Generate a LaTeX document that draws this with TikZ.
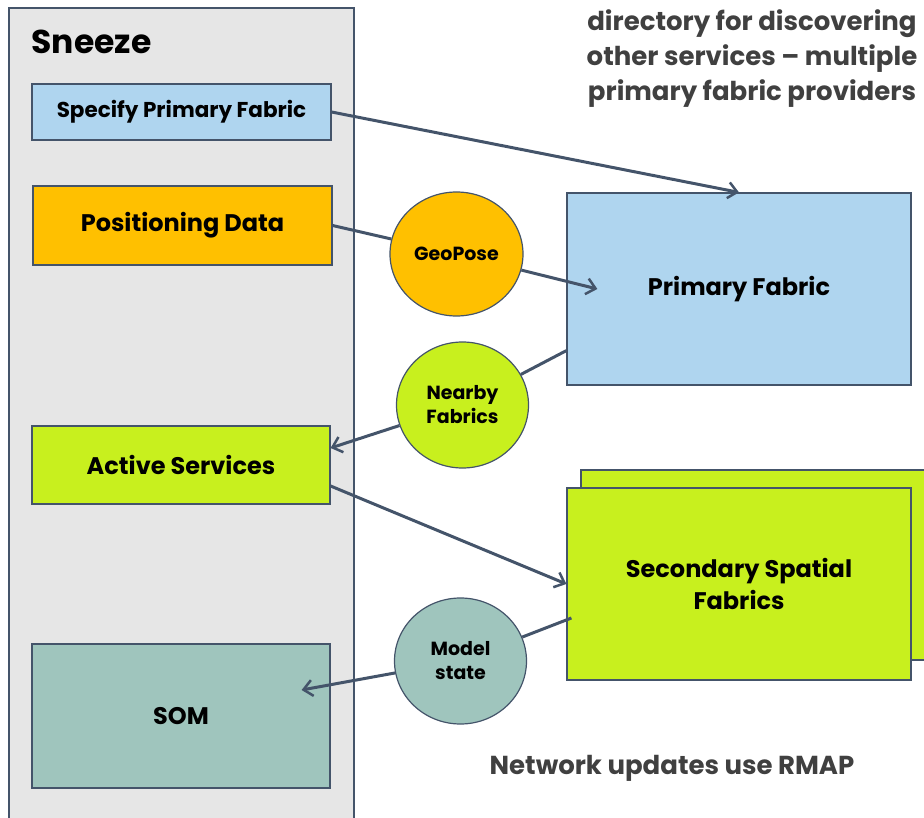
\documentclass[tikz,border=0pt]{standalone}
\usepackage{fontspec}
\setmainfont{Poppins}
\usetikzlibrary{shapes.geometric,arrows.meta,calc}
\definecolor{edge}{HTML}{44546A}
\definecolor{panel}{HTML}{E6E6E6}
\definecolor{skyblue}{HTML}{AFD5EF}
\definecolor{amber}{HTML}{FFC000}
\definecolor{lime}{HTML}{C8F01E}
\definecolor{sage}{HTML}{9FC5BD}
\definecolor{note}{HTML}{404040}
\tikzset{
  box/.style={draw=edge, line width=1.2pt, inner sep=0pt, align=center, font=\bfseries},
  bubble/.style={ellipse, draw=edge, line width=1.2pt, inner sep=0pt, align=center,
    minimum width=132pt, minimum height=126pt, font=\fontsize{19}{24}\selectfont\bfseries},
  link/.style={draw=edge, line width=3pt},
  flow/.style={link, -{Straight Barb[length=9pt,width=16pt,line width=2.5pt]}},
  notetext/.style={text=note, font=\fontsize{26}{35}\selectfont\bfseries, align=center}
}
\begin{document}
\begin{tikzpicture}[x=1pt,y=-1pt]
\useasboundingbox (0,0) rectangle (924,818);
% client container
\draw[fill=panel, draw=edge, line width=1.2pt] (9,8) rectangle (354,830);
\node[anchor=west, font=\fontsize{33}{40}\selectfont\bfseries] (title) at (28,42) {Sneeze};
% client components
\node[box, fill=skyblue, minimum width=299pt, minimum height=56pt,
      font=\fontsize{21.5}{26}\selectfont\bfseries] (spec) at (181.5,112) {Specify Primary Fabric};
\node[box, fill=amber, minimum width=299pt, minimum height=79pt,
      font=\fontsize{24}{29}\selectfont\bfseries] (pos) at (182.5,225.5) {Positioning Data};
\node[box, fill=lime, minimum width=298pt, minimum height=78pt,
      font=\fontsize{24}{29}\selectfont\bfseries] (act) at (181,465) {Active Services};
\node[box, fill=sage, minimum width=298pt, minimum height=144pt,
      font=\fontsize{24}{29}\selectfont\bfseries] (som) at (181,716) {SOM};
% fabrics
\node[box, fill=skyblue, minimum width=344pt, minimum height=192pt,
      font=\fontsize{24}{29}\selectfont\bfseries] (pf) at (739,289) {Primary Fabric};
\node[box, fill=lime, minimum width=350pt, minimum height=190pt] (secback) at (756,565) {};
\node[box, fill=lime, minimum width=344pt, minimum height=192pt,
      font=\fontsize{24}{32}\selectfont\bfseries] (sec) at (739,584) {Secondary Spatial\\Fabrics};
% messages
\node[bubble, fill=amber, minimum width=133pt, minimum height=124pt] (geo) at (456.5,254) {GeoPose};
\node[bubble, fill=lime] (nb) at (462.5,405) {Nearby\\Fabrics};
\node[bubble, fill=sage] (ms) at (460.5,661) {Model\\state};
% notes
\node[notetext] (dir) at (752,59) {directory for discovering\\other services -- multiple\\primary fabric providers};
\node[notetext] (rmap) at (672,768) {Network updates use RMAP};
% connectors
\draw[flow] (spec.east) -- (pf.north);
\draw[link] (pos.east) -- (geo);
\draw[flow] (geo) -- ([xshift=31pt]pf.west);
\draw[link] ([yshift=35pt]pf.south west) -- (nb);
\draw[flow] (nb) -- ([yshift=17pt]act.east);
\draw[flow] ([yshift=-21pt]act.east) -- (sec.west);
\draw[link] ([yshift=-34pt,xshift=5pt]sec.west) -- (ms);
\draw[flow] (ms) -- ([xshift=-29pt,yshift=26pt]som.east);
\end{tikzpicture}
\end{document}
